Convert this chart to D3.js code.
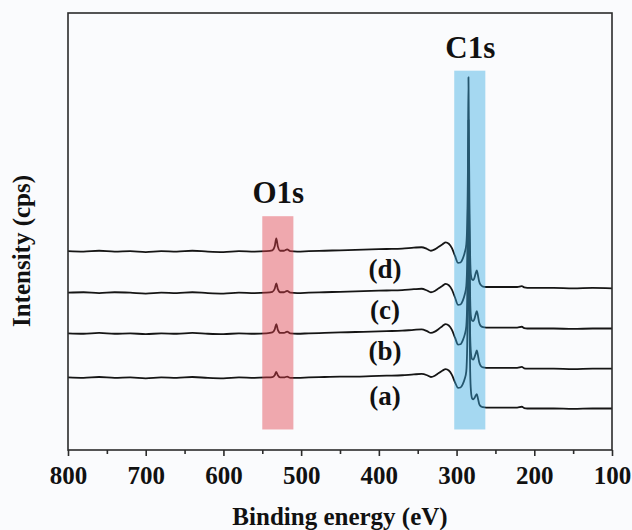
<!DOCTYPE html>
<html>
<head>
<meta charset="utf-8">
<script src="https://cdn.jsdelivr.net/npm/d3@7/dist/d3.min.js"></script>
<style>
  html, body { margin: 0; padding: 0; background: #fafbfd; }
  svg { display: block; }
  text { font-family: "Liberation Serif", "Times New Roman", serif; font-weight: bold; fill: #111; }
</style>
</head>
<body>
<svg id="chart" width="632" height="530"></svg>
<script>
// XPS survey spectra, binding energy (eV) vs. intensity (arbitrary cps units), stacked
const seriesNames = ["(a)", "(b)", "(c)", "(d)"];

const specA = [[800,166],[780,165],[760,167],[740,165],[720,166],[700,164],[680,166],[660,165],[640,167],[620,165],[600,164],[580,166],[560,165],[545,166],[537,167],[534,171],[532,179],[530,171],[527,166],[522,166],[518,168],[514,165],[505,165],[490,166],[470,167],[450,168],[430,168],[410,169],[390,170],[370,171],[355,173],[345,174],[338,171],[333,167],[328,170],[323,176],[318,182],[314,185],[310,182],[306,172],[302,155],[298,142],[295,143],[292,151],[289.5,163],[287.5,180],[286.3,240],[285.4,380],[284.7,618],[284,440],[283.3,290],[282.5,180],[281.5,135],[280,118],[278.5,116],[277,119],[275.5,124],[274,128],[272.5,118],[271,106],[269,100],[266,98],[262,97],[250,97],[235,97],[222,97],[216,99],[213,96],[209,95],[195,95],[175,95],[150,94],[125,95],[100,95]];

const specB = [[800,267],[780,266],[760,268],[740,266],[720,267],[700,265],[680,267],[660,266],[640,268],[620,266],[600,265],[580,267],[560,266],[545,267],[537,269],[534,276],[532,288],[530,275],[527,268],[522,268],[518,271],[514,267],[505,266],[490,267],[470,268],[450,269],[430,270],[410,271],[390,272],[370,273],[355,275],[345,276],[338,272],[333,268],[328,271],[323,277],[318,284],[314,288],[310,285],[306,275],[302,257],[298,241],[295,242],[292,251],[289.5,264],[287.5,283],[286.3,340],[285.4,470],[284.7,686],[284,520],[283.3,370],[282.5,260],[281.5,222],[280,208],[278.5,207],[277,212],[275.5,220],[274,228],[272.5,217],[271,202],[269,193],[266,189],[262,188],[250,188],[235,188],[222,188],[216,190],[213,187],[209,186],[195,186],[175,186],[150,185],[125,186],[100,186]];

const specC = [[800,360],[780,361],[760,359],[740,361],[720,360],[700,358],[680,360],[660,359],[640,361],[620,359],[600,358],[580,360],[560,359],[545,360],[537,362],[534,369],[532,381],[530,368],[527,361],[522,361],[518,364],[514,360],[505,359],[490,360],[470,361],[450,362],[430,363],[410,364],[390,365],[370,366],[355,368],[345,369],[338,365],[333,361],[328,364],[323,370],[318,376],[314,380],[310,377],[306,367],[302,349],[298,332],[295,333],[292,342],[289.5,356],[287.5,375],[286.3,430],[285.4,560],[284.7,755],[284,600],[283.3,450],[282.5,345],[281.5,305],[280,296],[278.5,295],[277,300],[275.5,310],[274,318],[272.5,307],[271,292],[269,284],[266,281],[262,280],[250,280],[235,280],[222,280],[216,282],[213,279],[209,278],[195,278],[175,278],[150,277],[125,278],[100,278]];

const specD = [[800,455],[780,454],[760,456],[740,454],[720,455],[700,453],[680,455],[660,454],[640,456],[620,454],[600,453],[580,455],[560,454],[545,455],[537,457],[534,466],[532,484],[530,466],[527,456],[522,456],[518,459],[514,455],[505,454],[490,455],[470,456],[450,457],[430,458],[410,459],[390,460],[370,461],[355,463],[345,464],[338,460],[333,456],[328,459],[323,465],[318,471],[314,475],[310,472],[306,462],[302,444],[298,428],[295,429],[292,438],[289.5,452],[287.5,470],[286.3,520],[285.4,640],[284.7,853],[284,690],[283.3,540],[282.5,440],[281.5,400],[280,390],[278.5,389],[277,394],[275.5,404],[274,411],[272.5,400],[271,386],[269,378],[266,374],[262,373],[250,373],[235,373],[222,373],[216,375],[213,372],[209,371],[195,371],[175,371],[150,370],[125,371],[100,370]];

const spectra = [specA, specB, specC, specD];

// Highlighted core-level regions (eV)
const regionNames = ["O1s", "C1s"];
const regionLow = [510, 263];
const regionHigh = [550, 303];

const xTicksMajor = [800, 700, 600, 500, 400, 300, 200, 100];
const xTicksMinor = [750, 650, 550, 450, 350, 250, 150];

const width = 632, height = 530;
const margin = { top: 13, right: 20, bottom: 80, left: 68 };

const svg = d3.select("#chart");
svg.append("rect").attr("width", width).attr("height", height).attr("fill", "#fafbfd");

const x = d3.scaleLinear().domain([800, 100]).range([margin.left, width - margin.right]);
const y = d3.scaleLinear().domain([0, 1000]).range([height - margin.bottom, margin.top]);

const line = d3.line()
  .x(d => x(d[0]))
  .y(d => y(d[1]))
  .curve(d3.curveMonotoneX);

// spectra
svg.append("g").selectAll("path")
  .data(spectra)
  .join("path")
  .attr("d", line)
  .attr("fill", "none")
  .attr("stroke", "#151515")
  .attr("stroke-width", 1.8)
  .attr("stroke-linejoin", "round");

// translucent region bands, laid over the traces
const bandColors = ["rgb(226,62,72)", "rgb(58,170,226)"];
const bandTops = [535, 868];
const bandBottom = 47;
svg.append("g").selectAll("rect")
  .data(regionNames)
  .join("rect")
  .attr("x", (d, i) => x(regionHigh[i]))
  .attr("width", (d, i) => x(regionLow[i]) - x(regionHigh[i]))
  .attr("y", (d, i) => y(bandTops[i]))
  .attr("height", (d, i) => y(bandBottom) - y(bandTops[i]))
  .attr("fill", (d, i) => bandColors[i])
  .attr("fill-opacity", 0.44);

// region titles
svg.append("g").selectAll("text")
  .data(regionNames)
  .join("text")
  .attr("x", (d, i) => (x(regionHigh[i]) + x(regionLow[i])) / 2 + 0.5)
  .attr("y", (d, i) => y(bandTops[i]) - 13)
  .attr("text-anchor", "middle")
  .attr("font-size", 31)
  .text(d => d);

// series labels under each trace
const labelEnergy = 392;
svg.append("g").selectAll("text")
  .data(seriesNames)
  .join("text")
  .attr("x", x(labelEnergy))
  .attr("y", (d, i) => {
    const pt = spectra[i].find(p => p[0] === 390);
    return y(pt[1]) + 29;
  })
  .attr("text-anchor", "middle")
  .attr("font-size", 27)
  .text(d => d);

// frame
svg.append("rect")
  .attr("x", margin.left)
  .attr("y", margin.top)
  .attr("width", width - margin.left - margin.right)
  .attr("height", height - margin.top - margin.bottom)
  .attr("fill", "none")
  .attr("stroke", "#2b2b2b")
  .attr("stroke-width", 1.6);

// bottom axis: minor then major ticks
const axisY = height - margin.bottom;
const minorAxis = svg.append("g")
  .attr("transform", `translate(0,${axisY})`)
  .call(d3.axisBottom(x).tickValues(xTicksMinor).tickSize(4).tickFormat(""));
minorAxis.select(".domain").remove();
minorAxis.selectAll("line").attr("stroke", "#2b2b2b").attr("stroke-width", 1.6);

const majorAxis = svg.append("g")
  .attr("transform", `translate(0,${axisY})`)
  .call(d3.axisBottom(x).tickValues(xTicksMajor).tickSize(6).tickPadding(10).tickFormat(d3.format("d")));
majorAxis.select(".domain").remove();
majorAxis.selectAll("line").attr("stroke", "#2b2b2b").attr("stroke-width", 1.6);
majorAxis.selectAll("text")
  .attr("font-size", 25)
  .attr("font-family", "'Liberation Serif', 'Times New Roman', serif")
  .attr("font-weight", "bold")
  .attr("fill", "#111");

// axis titles
svg.append("text")
  .attr("x", (margin.left + width - margin.right) / 2)
  .attr("y", 525)
  .attr("text-anchor", "middle")
  .attr("font-size", 25)
  .text("Binding energy (eV)");

svg.append("text")
  .attr("transform", `translate(30,${251}) rotate(-90)`)
  .attr("text-anchor", "middle")
  .attr("font-size", 25)
  .text("Intensity (cps)");
</script>
</body>
</html>
